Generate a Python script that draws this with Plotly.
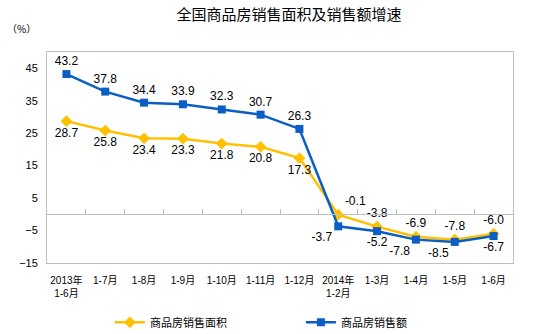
import plotly.graph_objects as go

categories = ["2013年<br>1-6月", "1-7月", "1-8月", "1-9月", "1-10月", "1-11月", "1-12月",
              "2014年<br>1-2月", "1-3月", "1-4月", "1-5月", "1-6月"]
area_growth = [28.7, 25.8, 23.4, 23.3, 21.8, 20.8, 17.3, -0.1, -3.8, -6.9, -7.8, -6.0]
sales_growth = [43.2, 37.8, 34.4, 33.9, 32.3, 30.7, 26.3, -3.7, -5.2, -7.8, -8.5, -6.7]
y_ticks = [-15, -5, 5, 15, 25, 35, 45]

YELLOW = "#FFC000"
BLUE = "#0A5EC4"
FONT_CJK = "Noto Sans CJK SC"
FONT_NUM = "Liberation Sans, Arial"

area_pos = ["bottom center" if v > 0 else "top center" for v in area_growth]
area_pos[7] = "top right"
sales_pos = ["top center" if v > 0 else "bottom center" for v in sales_growth]
sales_pos[7] = "bottom left"
sales_pos[9] = "bottom left"
sales_pos[10] = "bottom left"

fig = go.Figure()
fig.add_trace(go.Scatter(
    x=categories, y=area_growth, name="商品房销售面积",
    mode="lines+markers+text",
    line=dict(color=YELLOW, width=2.5),
    marker=dict(symbol="diamond", size=9, color=YELLOW),
    text=[f"{v:.1f}" for v in area_growth], textposition=area_pos,
    textfont=dict(family=FONT_NUM, size=12, color="#000000"),
))
fig.add_trace(go.Scatter(
    x=categories, y=sales_growth, name="商品房销售额",
    mode="lines+markers+text",
    line=dict(color=BLUE, width=2.5),
    marker=dict(symbol="square", size=8, color=BLUE),
    text=[f"{v:.1f}" for v in sales_growth], textposition=sales_pos,
    textfont=dict(family=FONT_NUM, size=12, color="#000000"),
))
# invisible trace to carry the zero-level category axis with boundary ticks
fig.add_trace(go.Scatter(
    x=categories, y=[None] * len(categories), xaxis="x2",
    showlegend=False, hoverinfo="skip", mode="lines",
))

fig.update_layout(
    width=535, height=334,
    margin=dict(l=47, r=22, t=52, b=71, autoexpand=False),
    paper_bgcolor="white", plot_bgcolor="white",
    title=dict(text="全国商品房销售面积及销售额增速", x=0.54, xanchor="center",
               y=0.955, yanchor="middle",
               font=dict(family=FONT_CJK, size=15, color="#000000")),
    font=dict(family=FONT_CJK, size=11, color="#000000"),
    showlegend=True,
    legend=dict(orientation="h", x=0.135, xanchor="left",
                yref="container", y=0.035, yanchor="middle",
                font=dict(family=FONT_CJK, size=11, color="#000000"),
                entrywidth=146, entrywidthmode="pixels", itemwidth=30,
                bgcolor="rgba(0,0,0,0)"),
    xaxis=dict(
        type="category", categoryarray=categories,
        showline=True, linecolor="#BFBFBF", linewidth=1, mirror=True,
        ticks="", showgrid=False, ticklabelstandoff=8,
        tickfont=dict(family="Liberation Sans, Noto Sans CJK SC", size=10, color="#000000"),
        range=[-0.5, len(categories) - 0.5],
    ),
    xaxis2=dict(
        type="category", categoryarray=categories,
        overlaying="x", matches="x", anchor="free", position=15 / 65,
        showline=True, linecolor="#BFBFBF", linewidth=1,
        ticks="inside", tickson="boundaries", ticklen=5, tickcolor="#BFBFBF",
        showticklabels=False, showgrid=False,
    ),
    yaxis=dict(
        range=[-15, 50], tickvals=y_ticks,
        showline=True, linecolor="#BFBFBF", linewidth=1, mirror=True,
        showgrid=False, zeroline=False, ticks="", ticklabelstandoff=6,
        tickfont=dict(family="Liberation Sans, Arial", size=11, color="#000000"),
    ),
    annotations=[dict(text="（%）", xref="paper", yref="paper", x=-0.09, y=1.11,
                      xanchor="left", yanchor="middle", showarrow=False,
                      font=dict(family=FONT_CJK, size=10, color="#000000"))],
)

fig.write_html("out.html")
